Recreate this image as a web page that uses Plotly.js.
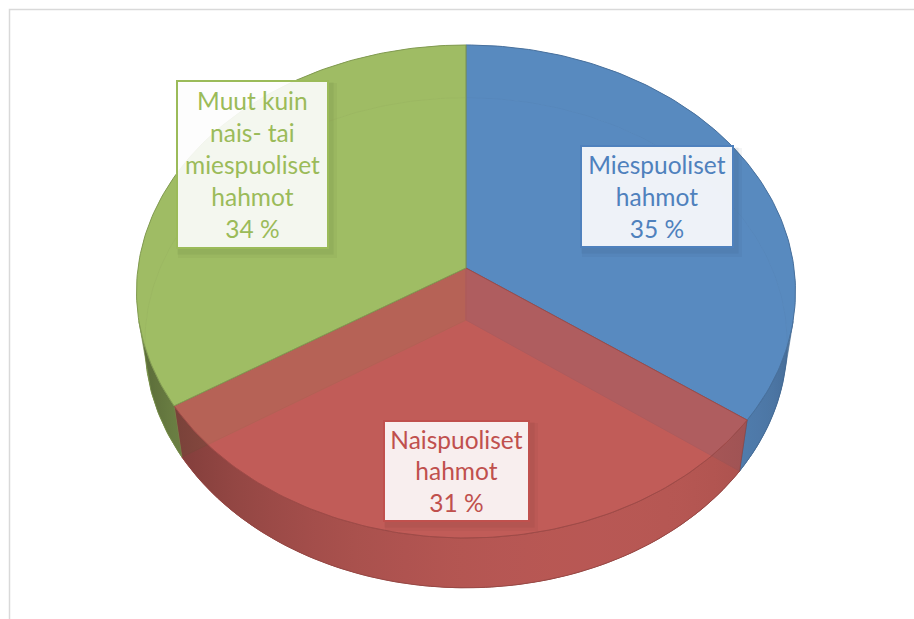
<!DOCTYPE html>
<html><head><meta charset="utf-8">
<script src="https://cdn.plot.ly/plotly-3.0.1.min.js"></script>
<style>html,body{margin:0;padding:0;background:#fff}#chart{width:914px;height:619px}</style>
</head><body><div id="chart"></div>
<script>
// ---- data ----
const categories = ['Miespuoliset hahmot', 'Naispuoliset hahmot', 'Muut kuin nais- tai miespuoliset hahmot'];
const labelLines = [['Miespuoliset', 'hahmot'], ['Naispuoliset', 'hahmot'], ['Muut kuin', 'nais- tai', 'miespuoliset', 'hahmot']];
const values = [35, 31, 34];

// ---- styles ----
const sliceRGB = [[89, 138, 192], [193, 92, 88], [159, 189, 100]];
const textRGB = [[79, 129, 189], [192, 80, 77], [155, 187, 89]];
const labelBoxes = [
  {x: 657, y: 196.5, w: 154, h: 103},
  {x: 456.5, y: 471, w: 147, h: 102},
  {x: 252.5, y: 164.5, w: 153, h: 169}
];
// perspective geometry (pixel space)
const G = {cx: 466, cy: 268, S: 328, s: 0.7447, c: 0.6674, rd: 0.1428, t: 0.2437};

function rgba(rgb, f, a) {
  const c = rgb.map(v => Math.max(0, Math.min(255, Math.round(v * f))));
  return 'rgba(' + c[0] + ',' + c[1] + ',' + c[2] + ',' + (a === undefined ? 1 : a) + ')';
}
function proj(thDeg, r, w) {
  const th = thDeg * Math.PI / 180;
  const u = r * Math.cos(th), v = r * Math.sin(th);
  const F = 1 + G.rd * (v * G.c - w * G.s);
  return [G.cx + G.S * u / F, G.cy - G.S * (v * G.s + w * G.c) / F];
}
function arc(a, b, w) {
  const n = Math.max(2, Math.ceil(Math.abs(a - b)));
  const pts = [];
  for (let i = 0; i <= n; i++) pts.push(proj(a + (b - a) * i / n, 1, w));
  return pts;
}
function poly(pts, fill, line, lw, extra) {
  const xs = pts.map(p => p[0]), ys = pts.map(p => p[1]);
  xs.push(xs[0]); ys.push(ys[0]);
  return Object.assign({
    type: 'scatter', mode: 'lines', x: xs, y: ys, fill: 'toself',
    fillcolor: fill, line: {color: line || fill, width: lw === undefined ? 0.6 : lw},
    hoverinfo: 'skip', showlegend: false
  }, extra || {});
}

const total = values.reduce((a, b) => a + b, 0);
const slices = [];
let cum = 0;
values.forEach((v, i) => {
  const a = 90 - 360 * cum / total;
  cum += v;
  const b = 90 - 360 * cum / total;
  slices.push({i, a, b});
});
const T = -G.t;
const vis = Math.asin(G.rd / G.c) * 180 / Math.PI; // wall visible for theta in (-180+vis, -vis)
const traces = [];

// full walls (back parts)
slices.forEach(sl => {
  const top = arc(sl.a, sl.b, 0), bot = arc(sl.b, sl.a, T);
  traces.push(poly(top.concat(bot), rgba(sliceRGB[sl.i], 0.97), null, 0));
});
// bottom faces
slices.forEach(sl => {
  traces.push(poly([proj(0, 0, T)].concat(arc(sl.a, sl.b, T)), rgba(sliceRGB[sl.i], 1), rgba(sliceRGB[sl.i], 0.8), 1));
});
// cut faces (visible side)
slices.forEach((sl, k) => {
  const th = sl.b;
  const next = slices[(k + 1) % slices.length];
  const owner = Math.cos(th * Math.PI / 180) > 0.001 ? sl.i : next.i;
  const pts = [proj(th, 0, 0), proj(th, 1, 0), proj(th, 1, T), proj(th, 0, T)];
  traces.push(poly(pts, rgba(sliceRGB[owner], 0.72), rgba(sliceRGB[owner], 0.6), 1));
});
// front walls with shading
const L = [0.35, -0.94];
const Ln = Math.hypot(L[0], L[1]);
function shadeAt(th) {
  const r = th * Math.PI / 180;
  const d = (Math.cos(r) * L[0] + Math.sin(r) * L[1]) / Ln;
  return 0.55 + 0.4 * Math.max(0, d);
}
slices.forEach(sl => {
  let lo = sl.b, hi = sl.a;
  let best = null;
  [-360, 0, 360].forEach(off => {
    const l2 = Math.max(lo + off, -180 + vis), h2 = Math.min(hi + off, -vis);
    if (h2 > l2) best = [l2, h2];
  });
  if (!best) return;
  const [l2, h2] = best;
  const top = arc(h2, l2, 0), bot = arc(l2, h2, T);
  const pts = top.concat(bot);
  const xs = pts.map(p => p[0]);
  const xmin = Math.min.apply(null, xs), xmax = Math.max.apply(null, xs);
  const N = 14, cs = [];
  for (let j = 0; j <= N; j++) {
    const th = l2 + (h2 - l2) * j / N;
    const px = (proj(th, 1, 0)[0] + proj(th, 1, T)[0]) / 2;
    let pos = (px - xmin) / (xmax - xmin);
    if (j === 0) pos = 0;
    if (j === N) pos = 1;
    pos = Math.max(0, Math.min(1, pos));
    if (cs.length && pos <= cs[cs.length - 1][0]) pos = Math.min(1, cs[cs.length - 1][0] + 1e-4);
    cs.push([pos, rgba(sliceRGB[sl.i], shadeAt(th), 0.9)]);
  }
  cs[cs.length - 1][0] = 1;
  traces.push(poly(pts, rgba(sliceRGB[sl.i], 0.9, 0.9), rgba(sliceRGB[sl.i], 0.75, 0.8), 0.8,
    {fillgradient: {type: 'horizontal', start: xmin, stop: xmax, colorscale: cs}}));
});
// top faces
slices.forEach(sl => {
  traces.push(poly([proj(0, 0, 0)].concat(arc(sl.a, sl.b, 0)), rgba(sliceRGB[sl.i], 1, 0.86), rgba(sliceRGB[sl.i], 0.82), 1));
});

// labels
const annotations = [], shapes = [];
slices.forEach(sl => {
  const bx = labelBoxes[sl.i];
  const txt = labelLines[sl.i].concat([values[sl.i] + ' %']).join('<br>');
  [[5, 6, 0.05, 3], [3, 4, 0.08, 1.5]].forEach(sd => {
    shapes.push({type: 'rect', xref: 'x', yref: 'y', layer: 'above',
      x0: bx.x - bx.w / 2 + sd[0] - sd[3], x1: bx.x + bx.w / 2 + sd[0] + sd[3],
      y0: bx.y - bx.h / 2 + sd[1] - sd[3], y1: bx.y + bx.h / 2 + sd[1] + sd[3],
      line: {width: 0}, fillcolor: rgba(textRGB[sl.i], 0.45, sd[2])});
  });
  annotations.push({
    x: bx.x, y: bx.y, xref: 'x', yref: 'y', showarrow: false,
    xanchor: 'center', yanchor: 'middle', text: txt,
    width: bx.w - 4, height: bx.h - 4, align: 'center', valign: 'middle',
    bgcolor: 'rgba(255,255,255,0.9)', bordercolor: rgba(textRGB[sl.i], 1), borderwidth: 2, borderpad: 0,
    font: {family: 'Lato, "Open Sans", sans-serif', size: 24.5, color: rgba(textRGB[sl.i], 1)}
  });
});
// chart area border
shapes.push({type: 'rect', xref: 'x', yref: 'y', layer: 'above', x0: 9.5, y0: 9.5, x1: 1000, y1: 800,
  line: {color: '#d9d9d9', width: 1.5}, fillcolor: 'rgba(0,0,0,0)'});

const layout = {
  width: 914, height: 619, margin: {l: 0, r: 0, t: 0, b: 0},
  paper_bgcolor: '#ffffff', plot_bgcolor: '#ffffff',
  xaxis: {range: [0, 914], visible: false, fixedrange: true},
  yaxis: {range: [619, 0], visible: false, fixedrange: true},
  showlegend: false, annotations, shapes, hovermode: false
};
Plotly.newPlot('chart', traces, layout, {displayModeBar: false, staticPlot: true});
</script></body></html>
